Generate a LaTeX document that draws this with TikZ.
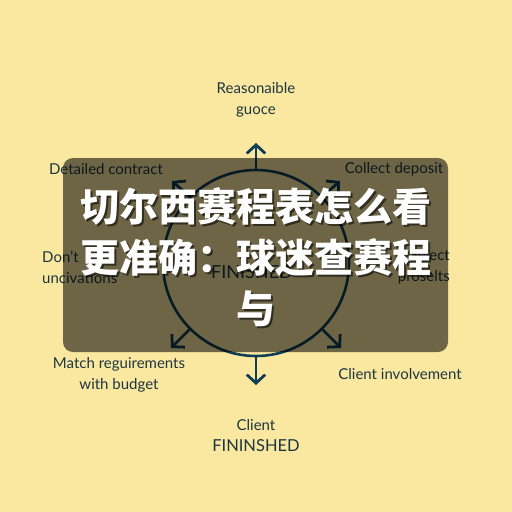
\documentclass[tikz,border=0pt]{standalone}
\usepackage{fontspec}
\setmainfont{Lato}
\newfontfamily\cjk{Noto Sans CJK SC}
\usetikzlibrary{arrows.meta,positioning}
\definecolor{bg}{HTML}{FBE8A0}
\definecolor{ink}{HTML}{1C3640}
\definecolor{ring}{HTML}{103E56}
\tikzset{
  >={Straight Barb[length=3mm,width=6.5mm]},
  lab/.style={font=\fontsize{15}{21}\selectfont,text=ink,align=center,inner sep=0pt},
  spoke/.style={->,draw=ring,line width=2.8pt},
  veil/.style={fill=black,fill opacity=0.56,rounded corners=10pt,inner sep=0pt},
  headline/.style={font=\cjk\bfseries\fontsize{39}{51}\selectfont,text=white,align=center,inner sep=0pt},
}
\begin{document}
\begin{tikzpicture}[x=1pt,y=-1pt]
\fill[bg] (0,0) rectangle (512,512);
\useasboundingbox (0,0) rectangle (512,512);
% ring with its six spokes
\node[circle,draw=ring,line width=2.6pt,minimum size=186pt,inner sep=0pt] (hub) at (256,263) {};
\node[lab,font=\fontsize{18}{20}\selectfont] (core) at (252,272) {FINISHED};
\coordinate (tipN) at (256,143);
\coordinate (tipS) at (256,385);
\coordinate (tipNW) at (172,181);
\coordinate (tipNE) at (340,181);
\coordinate (tipSW) at (171,348);
\coordinate (tipSE) at (341,348);
\draw[spoke] (hub.north) -- (tipN);
\draw[spoke] (hub.south) -- (tipS);
\draw[spoke] (hub.135) -- (tipNW);
\draw[spoke] (hub.45) -- (tipNE);
\draw[spoke] (hub.225) -- (tipSW);
\draw[spoke] (hub.-45) -- (tipSE);
% labels round the ring
\node[lab] (reason) at (256,100) {Reasonaible\\guoce};
\node[lab] (contract) at (106,169) {Detailed contract};
\node[lab] (deposit) at (394,169) {Collect deposit};
\node[lab,align=left,anchor=west] (dont) at (42,267) {Don't\\uncivations};
\node[lab,align=right,anchor=east] (select) at (450,267) {Select\\proselts};
\node[lab] (match) at (119,375) {Match reguirements\\with budget};
\node[lab] (involve) at (400,374) {Client involvement};
\node[lab] (finish) at (256,436) {Client\\{\fontsize{16.5}{20}\selectfont FININSHED}};
% dark banner with the title
\node[veil,minimum width=385pt,minimum height=194pt] (banner) at (255.5,255) {};
\node[headline,text=black,text opacity=0.55] (titleshade) at (258,259) {切尔西赛程表怎么看\\更准确：球迷查赛程\\与};
\node[headline] (title) at (256,257) {切尔西赛程表怎么看\\更准确：球迷查赛程\\与};
\end{tikzpicture}
\end{document}
